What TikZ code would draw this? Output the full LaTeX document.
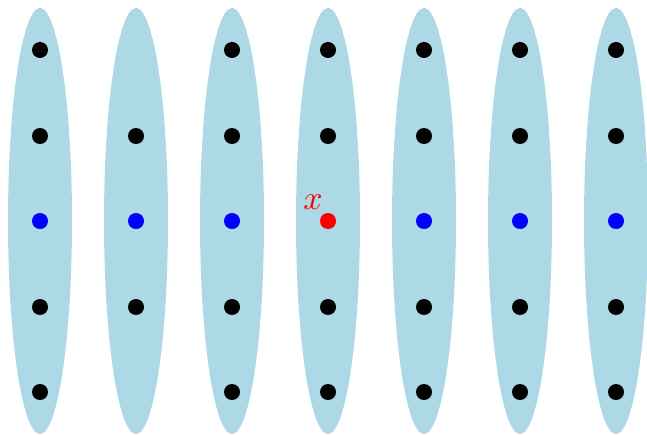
\documentclass[tikz,border=0pt]{standalone}
\usetikzlibrary{shapes.geometric}
\definecolor{lightblue}{RGB}{173,216,230}
\tikzset{
  band/.style={fill=lightblue},
  dotb/.style={circle,fill=black,inner sep=0pt,minimum size=16\pxu},
  dotblue/.style={circle,fill=blue,inner sep=0pt,minimum size=16\pxu},
  dotred/.style={circle,fill=red,inner sep=0pt,minimum size=16\pxu},
}
\newlength{\pxu}\setlength{\pxu}{0.010417cm}
\begin{document}
\begin{tikzpicture}[x=0.010417cm,y=-0.010417cm]
\useasboundingbox (0,0) rectangle (647,434);
\foreach \cx in {40,136,232,328,424,520,616}{
  \fill[band] (\cx,221) ellipse [x radius=32, y radius=213];
}
% column 1
\node[dotb] (a1) at (40,50) {};
\node[dotb] (a2) at (40,136) {};
\node[dotblue] (a3) at (40,221) {};
\node[dotb] (a4) at (40,307) {};
\node[dotb] (a5) at (40,392) {};
% column 2
\node[dotb] (b2) at (136,136) {};
\node[dotblue] (b3) at (136,221) {};
\node[dotb] (b4) at (136,307) {};
% column 3
\node[dotb] (c1) at (232,50) {};
\node[dotb] (c2) at (232,136) {};
\node[dotblue] (c3) at (232,221) {};
\node[dotb] (c4) at (232,307) {};
\node[dotb] (c5) at (232,392) {};
% column 4
\node[dotb] (d1) at (328,50) {};
\node[dotb] (d2) at (328,136) {};
\node[dotred] (d3) at (328,221) {};
\node[dotb] (d4) at (328,307) {};
\node[dotb] (d5) at (328,392) {};
\node[text=red,inner sep=0pt] (lx) at (313,202) {$x$};
% column 5
\node[dotb] (e1) at (424,50) {};
\node[dotb] (e2) at (424,136) {};
\node[dotblue] (e3) at (424,221) {};
\node[dotb] (e4) at (424,307) {};
\node[dotb] (e5) at (424,392) {};
% column 6
\node[dotb] (f1) at (520,50) {};
\node[dotb] (f2) at (520,136) {};
\node[dotblue] (f3) at (520,221) {};
\node[dotb] (f4) at (520,307) {};
\node[dotb] (f5) at (520,392) {};
% column 7
\node[dotb] (g1) at (616,50) {};
\node[dotb] (g2) at (616,136) {};
\node[dotblue] (g3) at (616,221) {};
\node[dotb] (g4) at (616,307) {};
\node[dotb] (g5) at (616,392) {};
\end{tikzpicture}
\end{document}
